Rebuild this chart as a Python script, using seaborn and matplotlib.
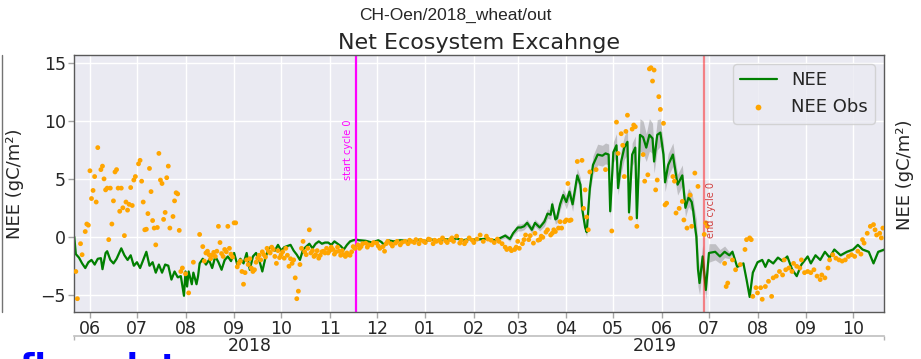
import numpy as np
import pandas as pd
import matplotlib
matplotlib.use("Agg")
import matplotlib.pyplot as plt
import matplotlib.dates as mdates
from matplotlib.lines import Line2D
from matplotlib.ticker import FixedLocator, FixedFormatter, NullFormatter
import seaborn as sns

# ---- data (days counted from 2018-06-01) ----
base_date = pd.Timestamp("2018-06-01")

nee_day = [
    -10, -9, -7, -5, -3, -1, 1, 3, 5, 7,
    8, 10, 11, 13, 15, 17, 20, 22, 24, 26,
    28, 30, 32, 34, 36, 38, 40, 42, 44, 46,
    48, 50, 52, 54, 56, 58, 60, 61, 62, 63,
    65, 66, 68, 69, 70, 72, 74, 76, 78, 80,
    82, 84, 86, 88, 90, 92, 94, 96, 98, 100,
    102, 104, 106, 108, 110, 112, 114, 116, 118, 120,
    122, 124, 126, 128, 130, 132, 134, 136, 138, 140,
    142, 144, 146, 148, 150, 152, 154, 156, 158, 160,
    162, 164, 166, 168, 170, 172, 176, 180, 184, 186,
    188, 190, 194, 198, 202, 206, 210, 214, 218, 222,
    226, 230, 234, 238, 242, 246, 250, 254, 258, 262,
    265, 268, 270, 273, 275, 277, 279, 282, 284, 287,
    290, 292, 294, 295, 297, 298, 299, 300, 301, 302,
    304, 306, 308, 311, 313, 314, 316, 317, 319, 321,
    324, 327, 329, 331, 332, 334, 336, 337, 339, 341,
    343, 344, 346, 348, 349, 351, 353, 355, 357, 359,
    360, 362, 364, 366, 367, 369, 372, 373, 375, 378,
    380, 382, 384, 385, 386, 387, 388, 389, 391, 393,
    395, 399, 402, 405, 408, 410, 413, 417, 419, 421,
    423, 426, 429, 431, 433, 436, 439, 442, 445, 448,
    451, 454, 458, 460, 463, 466, 469, 472, 475, 479,
    483, 487, 490, 493, 497, 500, 503, 507,
]
nee_val = [
    0.0, -1.5, -1.8, -2.3, -2.7, -2.2, -2.0, -2.4, -1.9, -1.85,
    -2.8, -1.4, -1.25, -2.0, -2.3, -1.9, -1.0, -1.6, -2.0, -1.6,
    -2.5, -2.2, -2.7, -2.0, -1.3, -2.5, -2.2, -3.1, -2.4, -3.1,
    -2.4, -2.5, -3.7, -3.0, -3.5, -3.4, -5.1, -3.0, -4.3, -3.0,
    -4.1, -3.1, -4.1, -3.4, -2.3, -1.9, -2.4, -2.0, -2.7, -1.7,
    -2.2, -2.85, -2.0, -1.7, -2.1, -1.4, -2.4, -1.9, -2.3, -1.4,
    -2.85, -1.7, -1.4, -2.0, -3.0, -1.8, -1.0, -0.85, -1.2, -0.7,
    -1.2, -0.9, -0.8, -0.7, -1.2, -1.55, -2.0, -1.1, -0.85, -0.6,
    -1.0, -0.6, -0.4, -0.6, -0.5, -0.5, -0.7, -0.4, -0.6, -0.8,
    -1.1, -0.7, -0.4, -0.3, -0.25, -0.3, -0.35, -0.5, -0.3, -0.45,
    -0.75, -0.3, -0.4, -0.3, -0.35, -0.4, -0.25, -0.35, -0.25, -0.3,
    -0.2, -0.25, -0.15, -0.3, -0.2, -0.25, -0.2, -0.15, -0.3, -0.1,
    0.1, -0.2, 0.3, 0.8, 0.8, 0.9, 1.2, 0.6, 1.2, 0.8,
    1.3, 2.0, 1.9, 2.8, 1.5, 1.6, 2.2, 2.8, 3.2, 3.6,
    3.0, 3.9, 2.8, 5.3, 4.5, 2.5, 0.8, 0.4, 4.2, 6.2,
    7.1, 7.0, 7.2, 7.1, 2.2, 7.3, 7.9, 4.2, 6.5, 7.7,
    8.2, 2.1, 7.1, 7.7, 1.6, 8.8, 8.6, 7.7, 8.8, 8.5,
    6.5, 8.8, 9.0, 7.1, 4.7, 6.2, 7.1, 6.2, 4.5, 5.3,
    2.5, 3.4, 3.0, 2.2, 1.0, 0.0, -2.8, -4.0, -1.7, -4.6,
    -1.4, -1.3, -1.7, -1.3, -1.6, -1.3, -2.6, -2.3, -3.7, -5.2,
    -3.1, -2.2, -2.0, -2.6, -2.0, -2.3, -1.8, -2.1, -1.7, -2.8,
    -3.4, -2.4, -1.7, -2.3, -1.6, -2.0, -1.3, -1.8, -1.1, -1.6,
    -1.3, -1.1, -0.7, -1.1, -1.3, -2.3, -1.3, -1.1,
]
# half width of the grey ensemble band
nee_sd = [
    0.1, 0.1, 0.1, 0.1, 0.1, 0.1, 0.1, 0.1, 0.1, 0.1,
    0.1, 0.1, 0.1, 0.1, 0.1, 0.1, 0.1, 0.1, 0.1, 0.1,
    0.1, 0.1, 0.1, 0.1, 0.1, 0.1, 0.1, 0.1, 0.1, 0.1,
    0.1, 0.1, 0.1, 0.1, 0.1, 0.1, 0.1, 0.1, 0.1, 0.1,
    0.1, 0.1, 0.1, 0.1, 0.1, 0.1, 0.1, 0.1, 0.1, 0.1,
    0.1, 0.1, 0.1, 0.1, 0.1, 0.1, 0.1, 0.1, 0.1, 0.1,
    0.1, 0.1, 0.1, 0.1, 0.1, 0.1, 0.1, 0.1, 0.1, 0.1,
    0.1, 0.1, 0.1, 0.1, 0.1, 0.1, 0.1, 0.1, 0.1, 0.1,
    0.1, 0.1, 0.1, 0.1, 0.1, 0.1, 0.1, 0.1, 0.1, 0.1,
    0.1, 0.1, 0.1, 0.1, 0.1, 0.1, 0.1, 0.1, 0.1, 0.1,
    0.1, 0.1, 0.1, 0.1, 0.1, 0.1, 0.1, 0.1, 0.1, 0.1,
    0.1, 0.1, 0.1, 0.1, 0.1, 0.1, 0.1, 0.1, 0.15, 0.15,
    0.2, 0.2, 0.2, 0.3, 0.3, 0.3, 0.3, 0.3, 0.3, 0.3,
    0.4, 0.4, 0.4, 0.4, 0.4, 0.4, 0.5, 0.5, 0.5, 0.5,
    0.6, 0.6, 0.6, 0.6, 0.6, 0.5, 0.4, 0.4, 0.6, 0.8,
    0.9, 0.9, 0.9, 0.9, 0.5, 0.9, 1.0, 0.6, 1.0, 1.0,
    1.1, 0.5, 1.0, 1.0, 0.5, 1.4, 1.4, 1.2, 1.4, 1.3,
    1.0, 1.3, 1.2, 1.0, 0.8, 1.0, 1.0, 1.0, 0.9, 0.9,
    0.8, 0.8, 0.8, 1.0, 1.2, 1.5, 1.5, 1.0, 1.0, 0.8,
    0.8, 0.7, 0.6, 0.5, 0.3, 0.2, 0.1, 0.1, 0.1, 0.1,
    0.1, 0.1, 0.1, 0.1, 0.1, 0.1, 0.1, 0.1, 0.1, 0.1,
    0.1, 0.1, 0.1, 0.1, 0.1, 0.1, 0.1, 0.1, 0.1, 0.1,
    0.1, 0.1, 0.1, 0.1, 0.1, 0.1, 0.1, 0.1,
]

obs_day = [
    -9, -8, -6, -5, -3, -2, -1, 0, 1, 2,
    3, 4, 5, 7, 8, 9, 10, 11, 12, 13,
    14, 15, 16, 17, 18, 19, 20, 21, 22, 23,
    24, 25, 26, 27, 28, 29, 31, 32, 33, 34,
    35, 36, 37, 38, 39, 40, 41, 42, 43, 44,
    45, 46, 47, 48, 49, 50, 51, 53, 54, 55,
    56, 57, 58, 59, 61, 63, 66, 70, 72, 73,
    74, 75, 76, 77, 78, 79, 80, 81, 82, 83,
    84, 85, 86, 87, 88, 89, 90, 91, 92, 93,
    94, 95, 96, 97, 98, 99, 100, 101, 102, 103,
    104, 105, 106, 107, 108, 109, 110, 111, 112, 113,
    114, 115, 116, 117, 118, 119, 120, 121, 122, 123,
    124, 125, 126, 127, 128, 129, 130, 131, 132, 133,
    134, 135, 136, 137, 138, 139, 140, 141, 142, 143,
    144, 145, 146, 147, 148, 149, 150, 151, 152, 153,
    154, 155, 156, 157, 158, 159, 160, 161, 162, 163,
    164, 165, 166, 167, 168, 169,
    171, 172, 173, 174, 176, 177, 178, 180, 181, 183,
    184, 185, 187, 188, 189, 190, 192, 193, 195, 196,
    198, 199, 201, 203, 204, 205, 207, 208, 210, 211,
    213, 214, 216, 217, 219, 220, 221, 223, 224, 225,
    227, 228, 230, 231, 232, 234, 236, 237, 239, 240,
    242, 244, 245, 247, 249, 251, 253, 254, 256, 258,
    260, 261, 263, 265, 266, 268, 269, 271, 272, 273,
    274, 276, 277, 278, 280, 281, 283, 284, 286, 287,
    288, 289, 291, 292, 294, 295, 296, 297, 299, 300,
    301, 303, 304, 305, 306, 307, 311, 314, 315, 316,
    317, 318, 319, 323, 329, 333, 336, 337, 339, 340,
    341, 342, 343, 345, 346, 347, 348, 349, 353, 354,
    356, 357, 358, 359, 360, 361, 362, 363, 364, 366,
    367, 368, 372, 373, 374, 376, 378, 379, 381, 383,
    384, 386, 388, 392, 393, 394,
    405, 406, 407, 410, 412, 415, 418, 419, 421, 422,
    423, 425, 426, 428, 429, 431, 433, 435, 436, 438,
    440, 442, 443, 444, 446, 448, 449, 451, 453, 454,
    456, 458, 460, 462, 464, 466, 467, 469, 471, 472,
    474, 476, 478, 480, 482, 484, 486, 488, 490, 492,
    493, 494, 496, 498, 500, 501, 502, 504, 505, 506,
]
obs_val = [
    -3.0, -5.35, -0.6, -1.55, 0.45, 1.1, 1.0, 5.7, 3.3, 4.0,
    5.2, 3.0, 7.7, 5.8, 6.1, 5.0, 4.05, 4.2, -0.25, 4.2,
    1.1, 3.1, 5.6, 5.8, 4.2, 2.2, 4.2, 2.5, 0.1, 3.0,
    2.3, 2.8, 4.25, 2.7, 4.9, 5.2, 6.3, 6.6, 4.8, 3.0,
    0.6, 0.65, 2.0, 5.9, 3.9, 1.4, 0.75, -0.7, 0.8, 7.2,
    4.9, 4.6, 1.5, 2.1, 5.1, 6.1, 0.75, 1.75, 3.1, 3.8,
    3.7, 0.55, -3.0, -2.7, -3.2, -4.85, -2.2, 0.2, -0.85, -2.1,
    -1.4, -1.25, -1.55, -1.9, -1.6, -1.35, -1.7, -1.25, 0.9, -0.5,
    -1.45, -1.7, -1.1, -1.3, 0.9, -1.0, -1.5, -1.75, 1.2, 1.2,
    -2.6, -2.3, -2.1, -3.0, -4.1, -3.1, -2.0, -2.4, -1.9, -2.7,
    -3.0, -2.85, -2.2, -1.85, -1.6, -2.0, -1.3, -1.55, -1.75, -1.0,
    -1.25, -1.4, -0.9, -1.1, -1.7, -2.3, -1.2, -1.8, -1.55, -1.3,
    -1.85, -1.0, -1.6, -2.55, -1.9, -2.3, -2.0, -3.55, -5.35, -4.7,
    -2.4, -1.0, -0.4, -1.3, -1.55, -1.0, 0.6, -1.4, -1.2, -1.7,
    -1.55, -1.2, -1.85, -1.6, -1.3, -1.25, -1.4, -1.0, -1.4, -1.2,
    -0.9, -1.1, -1.5, -1.3, -0.9, -1.25, -1.6, -1.2, -1.55, -1.7,
    -1.4, -1.55, -1.6, -1.3, -0.85, -1.0,
    -0.7, -1.0, -0.85, -0.6, -0.55, -0.9, -0.7, -0.7, -0.5, -0.55,
    -0.8, -1.0, -0.85, -1.25, -0.6, -0.4, -0.6, -0.8, -0.55, -0.4,
    -0.7, -0.5, -0.4, -0.6, -0.3, -0.4, -0.5, -0.25, -0.6, -0.3,
    -0.4, -0.5, -0.2, -0.25, -0.6, -0.3, -0.4, -0.3, -0.5, -0.1,
    -0.35, -0.5, -0.25, -0.1, -0.4, 0.05, -0.55, -0.3, -0.6, -0.4,
    -0.1, -0.3, -0.5, -0.2, 0.15, -0.4, 0.05, -0.2, -0.3, -0.5,
    -0.2, -0.4, -0.6, -0.9, -1.1, -1.0, -1.2, -1.1, -0.9, -0.4,
    -1.0, -0.6, -0.25, 0.15, -0.25, 0.1, -0.55, 0.3, -0.3, -0.25,
    0.05, -0.05, 0.4, 0.6, 0.15, 0.3, 0.6, 0.45, 0.75, 1.3,
    0.75, 1.3, 1.45, 4.6, 1.4, 1.45, 6.5, 6.6, 2.45, 4.05,
    1.7, 0.6, 5.6, 5.8, 5.8, 0.5, 9.9, 7.2, 8.9, 7.9,
    5.2, 9.1, 10.5, 1.6, 9.3, 9.65, 9.5, 0.9, 7.1, 4.8,
    5.35, 14.5, 14.6, 13.45, 14.4, 4.05, 4.9, 12.1, 11.0, 9.8,
    2.75, 2.9, 5.2, 4.8, 2.05, 2.45, 3.05, 1.45, 0.75, 3.6,
    0.9, 5.5, 4.35, 0.2, 1.2, 0.9,
    -2.3, -4.3, -4.0, -2.0, -2.85, -2.4, -1.1, -0.25, -0.1, -0.25,
    -5.15, -4.4, -4.85, -4.4, -5.4, -4.3, -3.85, -5.15, -3.55, -3.4,
    -3.0, -3.3, -2.0, -2.85, -2.7, -3.0, -2.3, -2.55, -2.7, -2.0,
    -3.1, -3.0, -3.1, -2.85, -3.4, -3.7, -3.3, -3.55, -2.7, -2.0,
    -1.55, -1.85, -2.0, -2.1, -2.0, -1.7, -1.55, -1.7, -1.25, -1.5,
    -0.25, -0.55, 0.3, 0.9, 1.05, 0.6, 0.15, 0.3, -0.1, 0.75,
]

cycle_start = pd.Timestamp("2018-11-18")
cycle_end = pd.Timestamp("2019-06-28")
x_min = pd.Timestamp("2018-05-21 20:00")
x_max = pd.Timestamp("2019-10-20 17:00")

assert len(nee_day) == len(nee_val) == len(nee_sd)
assert len(obs_day) == len(obs_val)

nee = pd.DataFrame({
    "time": base_date + pd.to_timedelta(nee_day, unit="D"),
    "NEE": nee_val,
    "sd": nee_sd,
})
obs = pd.DataFrame({
    "time": base_date + pd.to_timedelta(obs_day, unit="D"),
    "NEE Obs": obs_val,
})

# ---- style ----
sns.set_theme(style="darkgrid")
plt.rcParams["font.family"] = ["DejaVu Sans"]

fig = plt.figure(figsize=(9.21, 3.59), dpi=100)
ax = fig.add_axes([74 / 921, 47 / 359, 810 / 921, 257 / 359])

# grey ensemble band, model line, observations
ax.fill_between(nee["time"], nee["NEE"] - nee["sd"], nee["NEE"] + nee["sd"],
                color="gray", alpha=0.4, lw=0)
sns.lineplot(data=nee, x="time", y="NEE", color="green", lw=1.6,
             label="NEE", ax=ax)
sns.scatterplot(data=obs, x="time", y="NEE Obs", color="orange", s=12,
                edgecolor="none", label="NEE Obs", ax=ax, zorder=3)

# cycle markers
ax.axvline(cycle_start, color="magenta", lw=1.6)
ax.axvline(cycle_end, color="red", alpha=0.45, lw=1.6)
ax.text(cycle_start - pd.Timedelta(days=2), 7.5, "start cycle 0", rotation=90,
        color="magenta", fontsize=7, ha="right", va="center")
ax.text(cycle_end + pd.Timedelta(days=1), 2.3, "end cycle 0", rotation=90,
        color="#d04040", fontsize=7, ha="left", va="center")

ax.set_xlim(x_min, x_max)
ax.set_ylim(-6.5, 15.7)
ax.set_yticks([-5, 0, 5, 10, 15])
ax.xaxis.set_major_locator(mdates.MonthLocator())
ax.xaxis.set_major_formatter(mdates.DateFormatter("%m"))
ax.tick_params(axis="both", which="major", labelsize=12.5, length=4,
               width=1, color="0.65", bottom=True, left=True, pad=2)
ax.set_xlabel("")
ax.set_ylabel("NEE (gC/m²)", fontsize=13)
ax.yaxis.set_label_coords(-0.062, 0.5)
ax.set_title("Net Ecosystem Excahnge", fontsize=16, pad=4)
for sp in ax.spines.values():
    sp.set_visible(True)
    sp.set_color("0.35")
    sp.set_linewidth(1)

leg = ax.legend(loc="upper right", fontsize=13, markerscale=1.2)

# year labels on a second axis below the months
lo, hi = mdates.date2num(x_min), mdates.date2num(x_max)
jan = mdates.date2num(pd.Timestamp("2019-01-01"))
sec = ax.secondary_xaxis(-0.093)
sec.xaxis.set_major_locator(FixedLocator([lo, hi]))
sec.xaxis.set_major_formatter(NullFormatter())
sec.xaxis.set_minor_locator(FixedLocator([(lo + jan) / 2, (jan + hi) / 2]))
sec.xaxis.set_minor_formatter(FixedFormatter(["2018", "2019"]))
sec.tick_params(which="major", length=3, color="0.7", width=1)
sec.tick_params(which="minor", length=0, labelsize=12.5, pad=1)
sec.spines["bottom"].set_color("0.75")
sec.spines["bottom"].set_linewidth(1.2)

# file title
fig.text(455 / 921, 1 - 15 / 359, "CH-Oen/2018_wheat/out", ha="center",
         va="center", fontsize=12.5, family=["Liberation Sans", "DejaVu Sans"],
         color="0.15")

# bits of the neighbouring panels and the heading below (cut off in the shot)
fig.add_artist(Line2D([2 / 921, 2 / 921], [47 / 359, 304 / 359],
                      transform=fig.transFigure, color="0.45", lw=1))
fig.text(905 / 921, 184 / 359, "NEE (gC/m²)", rotation=90, fontsize=13,
         ha="center", va="center", color="0.15")
fig.text(20 / 921, -19 / 359, "flux plot", fontsize=24, fontweight="bold",
         color="blue", ha="left", va="baseline")

fig.savefig("out.png", dpi=100)
